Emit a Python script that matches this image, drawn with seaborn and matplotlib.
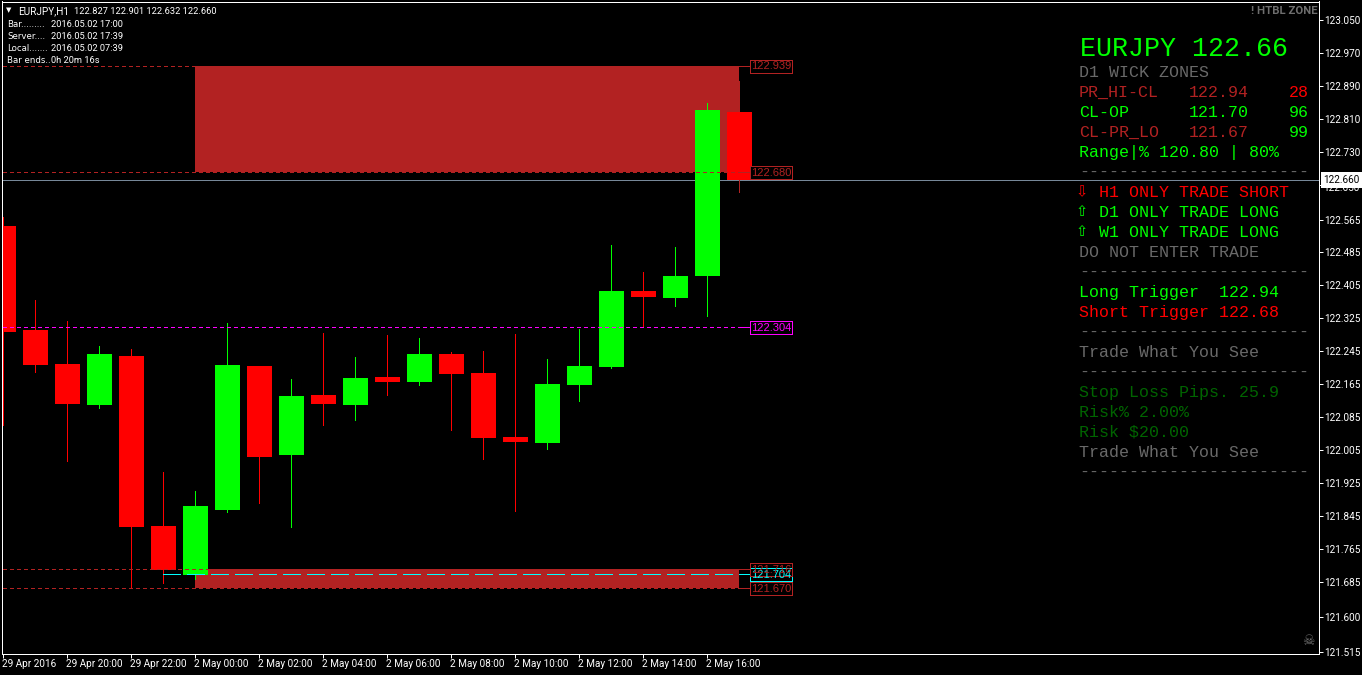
import matplotlib
matplotlib.use("Agg")
import matplotlib.pyplot as plt
from matplotlib.patches import Rectangle
from matplotlib.transforms import ScaledTranslation, blended_transform_factory
import pandas as pd
import seaborn as sns

# candles, one per hour
opens = [122.550, 122.297, 122.214, 122.114, 122.233, 121.820, 121.700, 121.859,
         122.209, 121.992, 122.138, 122.114, 122.182, 122.170, 122.238, 122.192,
         122.036, 122.022, 122.163, 122.206, 122.391, 122.374, 122.428, 122.827]
closes = [122.292, 122.211, 122.117, 122.238, 121.817, 121.713, 121.868, 122.211,
          121.988, 122.136, 122.117, 122.180, 122.170, 122.238, 122.189, 122.034,
          122.024, 122.165, 122.209, 122.391, 122.377, 122.428, 122.832, 122.660]
highs = [122.571, 122.370, 122.318, 122.258, 122.250, 121.951, 121.905, 122.314,
         122.209, 122.177, 122.289, 122.231, 122.284, 122.277, 122.243, 122.245,
         122.287, 122.226, 122.299, 122.503, 122.438, 122.498, 122.849, 122.901]
lows = [122.065, 122.194, 121.978, 122.107, 121.669, 121.681, 121.691, 121.854,
        121.876, 121.817, 122.065, 122.078, 122.138, 122.163, 122.053, 121.983,
        121.856, 122.007, 122.124, 122.204, 122.304, 122.355, 122.331, 122.632]

time_labels = ["29 Apr 2016", "29 Apr 20:00", "29 Apr 22:00", "2 May 00:00", "2 May 02:00",
               "2 May 04:00", "2 May 06:00", "2 May 08:00", "2 May 10:00", "2 May 12:00",
               "2 May 14:00", "2 May 16:00"]
price_ticks = [123.050, 122.970, 122.890, 122.810, 122.730, 122.650, 122.565, 122.485,
               122.405, 122.325, 122.245, 122.165, 122.085, 122.005, 121.925, 121.845,
               121.765, 121.685, 121.600, 121.515]
last_price = 122.660

zone_upper = [122.680, 122.939]
zone_lower = [121.670, 121.716]
red_levels = [122.939, 122.680, 121.716, 121.670]
pivot_level = 122.304
cyan_level = 121.704

info_labels = ["Bar.........", "Server....", "Local.......", "Bar ends.."]
info_values = ["2016.05.02 17:00", "2016.05.02 17:39", "2016.05.02 07:39", "0h 20m 16s"]
header_name = "EURJPY,H1"
header_prices = "122.827 122.901 122.632 122.660"

LIME = "#00ff00"
RED = "#ff0000"
BRICK = "#b22222"
GREY = "#696969"
DARK = "#006400"
SEP = "-" * 23

panel_rows = [
    ("D1 WICK ZONES", GREY, 1079, 72),
    ("PR_HI-CL", BRICK, 1079, 92), ("122.94", BRICK, 1189, 92), ("28", RED, 1289, 92),
    ("CL-OP", LIME, 1079, 112), ("121.70", LIME, 1189, 112), ("96", LIME, 1289, 112),
    ("CL-PR_LO", BRICK, 1079, 132), ("121.67", BRICK, 1189, 132), ("99", LIME, 1289, 132),
    ("Range|% 120.80 | 80%", LIME, 1079, 152),
    (SEP, GREY, 1079, 172),
    ("H1 ONLY TRADE SHORT", RED, 1099, 192),
    ("D1 ONLY TRADE LONG", LIME, 1099, 212),
    ("W1 ONLY TRADE LONG", LIME, 1099, 232),
    ("DO NOT ENTER TRADE", GREY, 1079, 252),
    (SEP, GREY, 1079, 272),
    ("Long Trigger  122.94", LIME, 1079, 292),
    ("Short Trigger 122.68", RED, 1079, 312),
    (SEP, GREY, 1079, 332),
    ("Trade What You See", GREY, 1079, 352),
    (SEP, GREY, 1079, 372),
    ("Stop Loss Pips. 25.9", DARK, 1079, 392),
    ("Risk% 2.00%", DARK, 1079, 412),
    ("Risk $20.00", DARK, 1079, 432),
    ("Trade What You See", GREY, 1079, 452),
    (SEP, GREY, 1079, 472),
]

W, H = 1362, 675
PX_PER_PRICE = 411.5
sns.set_theme(style="dark", rc={"axes.facecolor": "black", "figure.facecolor": "black",
                                "axes.edgecolor": "white", "axes.linewidth": 0.72})
plt.rcParams["font.family"] = ["Roboto", "DejaVu Sans"]

fig = plt.figure(figsize=(W / 100, H / 100), dpi=100)
ax = fig.add_axes([1.5 / W, 1 - 653.5 / H, 1317 / W, 652 / H])

df = pd.DataFrame({"bar": range(len(opens)), "open": opens, "close": closes})
df["bottom"] = df[["open", "close"]].min(axis=1)
df["size"] = (df["open"] - df["close"]).abs()
ups = df[df["close"] >= df["open"]]
downs = df[df["close"] < df["open"]]

# zones sit under the candles
ax.fill_between([6, 23], zone_upper[0], zone_upper[1], color=BRICK, lw=0, zorder=1)
ax.fill_between([6, 23], zone_lower[0], zone_lower[1], color=BRICK, lw=0, zorder=1)
ax.axhline(last_price, color="#778899", lw=0.72, zorder=1.5)

wick_colors = [LIME if c >= o else RED for o, c in zip(opens, closes)]
wick_colors[-1] = BRICK
ax.vlines(df["bar"], lows, highs, colors=wick_colors, lw=0.72, antialiased=False, zorder=2)

for part, col in [(ups, LIME), (downs, RED)]:
    sns.barplot(data=part, x="bar", y="size", bottom=part["bottom"].values, color=col,
                saturation=1, native_scale=True, width=25 / 32, linewidth=0,
                antialiased=False, errorbar=None, zorder=3, ax=ax)

line_end = 23.33
for lvl in red_levels:
    ax.plot([0, line_end], [lvl, lvl], color=BRICK, lw=0.72, ls=(0, (3, 3)), antialiased=False, zorder=4)
    ax.plot([23.03, line_end], [lvl, lvl], color=BRICK, lw=0.72, antialiased=False, zorder=4)
ax.plot([0, line_end], [pivot_level, pivot_level], color="#ff00ff", lw=0.72, ls=(0, (3, 3)),
        antialiased=False, zorder=4)
ax.plot([23.03, line_end], [pivot_level, pivot_level], color="#ff00ff", lw=0.72, antialiased=False, zorder=4)
ax.plot([5, line_end], [cyan_level, cyan_level], color="#00ffff", lw=0.72, ls=(0, (18, 6)),
        antialiased=False, zorder=4)

# price tags right of the last candle
box_w, box_h = 42 / 32, 13 / PX_PER_PRICE
tag_shift = 0.7 / PX_PER_PRICE
tags = [(cyan_level, "#00ffff"), (122.939, BRICK), (122.680, BRICK), (pivot_level, "#ff00ff"),
        (121.716, BRICK), (121.670, BRICK)]
for lvl, col in tags:
    ax.add_patch(Rectangle((line_end, lvl - tag_shift - box_h / 2), box_w, box_h,
                           fc="none" if lvl == 121.716 else "black",
                           ec=col, lw=0.72, antialiased=False, zorder=5))
    ax.text(line_end + 1.5 / 32, lvl - tag_shift, f"{lvl:.3f}", color=col, fontsize=8, va="center",
            ha="left", family="Liberation Sans", zorder=6)

ax.set_xlim(-1.7 / 32, 1315.3 / 32)
ax.set_ylim(123.0948 - 652 / PX_PER_PRICE, 123.0948)
ax.set_xlabel("")
ax.set_ylabel("")
ax.grid(False)
for side in ["top", "bottom", "left", "right"]:
    ax.spines[side].set_visible(True)
    ax.spines[side].set_color("white")
    ax.spines[side].set_linewidth(0.72)
    ax.spines[side].set_zorder(7)

ax.yaxis.tick_right()
ax.set_yticks(price_ticks, ["" if p == 122.650 else f"{p:.3f}" for p in price_ticks])
ax.set_xticks(range(0, 2 * len(time_labels), 2), time_labels, ha="left")
ax.tick_params(axis="both", which="major", colors="white", length=3, width=0.72, labelsize=7.2, pad=0.8,
               bottom=True, right=True, left=False)
ax.tick_params(axis="x", pad=1)
for lab in ax.get_xticklabels():
    lab.set_transform(lab.get_transform() + ScaledTranslation(-0.01, 0, fig.dpi_scale_trans))

# current price flag, with the tick label it hides peeking out below
trans = blended_transform_factory(ax.transAxes, ax.transData)
ax.text(1 + 5 / 1317, 122.6425, "122.650", transform=trans, color="white", fontsize=7.2,
        va="center", ha="left", clip_on=False, zorder=9)
ax.text(1 + 5 / 1317, last_price, f"{last_price:.3f}", transform=trans, color="black", fontsize=7.2,
        va="center", ha="left", clip_on=False, zorder=10,
        bbox=dict(boxstyle="square,pad=0.3", fc="white", ec="white", lw=0))


def put(x, y, s, **kw):
    return fig.text(x / W, 1 - y / H, s, va="baseline", **kw)


fig.text(9 / W, 1 - 10 / H, "\u25bc", va="center", color="white", fontsize=5, ha="center", family="DejaVu Sans")
put(18, 14, header_name, color="white", fontsize=7.2)
put(74, 14, header_prices, color="white", fontsize=6.65)
for i, (lab, val) in enumerate(zip(info_labels, info_values)):
    put(7, 27 + 12 * i, lab, color="white", fontsize=6.2, family="DejaVu Sans")
    put(51, 27 + 12 * i, val, color="white", fontsize=6.65)
put(1318, 14, "! HTBL ZONE", color="#6e6e6e", fontsize=8.2, ha="right", weight="bold")

put(1080, 56, "EURJPY 122.66", color=LIME, fontsize=19.2, family="Liberation Mono")
for txt, col, x, y in panel_rows:
    put(x, y + 5, txt, color=col, fontsize=12, family="Liberation Mono")
put(1082, 196, "\u21e9", color=RED, fontsize=10.5, ha="center", family="DejaVu Sans")
put(1082, 216, "\u21e7", color=LIME, fontsize=10.5, ha="center", family="DejaVu Sans")
put(1082, 236, "\u21e7", color=LIME, fontsize=10.5, ha="center", family="DejaVu Sans")
put(1308.5, 645, "\u2620", color="#707070", fontsize=10, ha="center", family="DejaVu Sans")

fig.savefig("out.png", dpi=100, facecolor="black")
